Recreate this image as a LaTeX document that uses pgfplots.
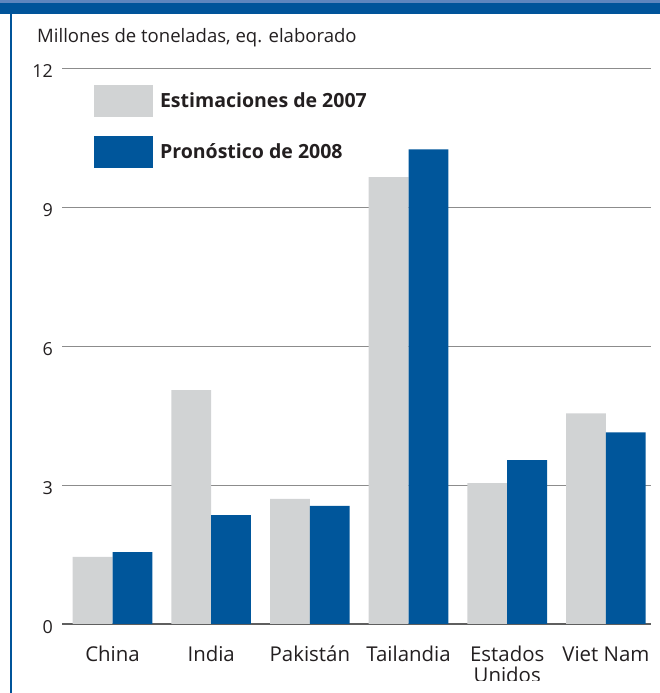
\documentclass[border=0pt]{standalone}
\usepackage{fontspec}
\setmainfont{Open Sans}
\usepackage{pgfplots}
\pgfplotsset{compat=1.18}
\definecolor{bargray}{HTML}{D1D3D4}
\definecolor{barblue}{HTML}{00569B}
\definecolor{bandblue}{HTML}{00549A}
\definecolor{bandlight}{HTML}{5E86BE}
\definecolor{gridgray}{HTML}{8C8C8C}
\definecolor{zerogray}{HTML}{5F5F5F}
\definecolor{textcol}{HTML}{231F20}
\begin{document}
\begin{tikzpicture}
\useasboundingbox (0,0) rectangle (660bp,693bp);
\begin{axis}[
  at={(62bp,69bp)}, anchor=south west,
  scale only axis, width=588.5bp, height=555.7bp,
  xmin=-0.512, xmax=5.452, ymin=0, ymax=12,
  ybar=0pt, bar width=39.8bp,
  axis line style={draw=none}, major tick length=0pt,
  xtick={0,1,2,3,4,5},
  xticklabels={China,India,Pakistán,Tailandia,{\begin{tabular}[t]{@{}c@{}}Estados\\Unidos\end{tabular}},Viet Nam},
  xticklabel style={font=\fontsize{20.5}{21}\selectfont, text=textcol, anchor=base, inner sep=0pt, yshift=-37bp},
  ytick={3,6,9,12},
  extra y ticks={0},
  extra y tick style={grid style={color=zerogray, line width=2bp}},
  ymajorgrids, grid style={color=gridgray, line width=1.1bp},
  /pgf/number format/assume math mode=true,
  yticklabel style={font=\fontsize{18}{18}\selectfont, text=textcol, anchor=east, inner sep=0pt, xshift=-9bp, yshift=-3bp},
  legend style={draw=none, fill=none, at={(axis description cs:0.0544,0.970)}, anchor=north west,
    font=\bfseries\fontsize{19.6}{20}\selectfont, text=textcol, row sep=19bp, column sep=7bp,
    inner sep=0pt, outer sep=0pt, nodes={inner sep=0pt, outer sep=0pt}},
  legend cell align=left,
]
\addplot[fill=bargray, draw=none, legend image code/.code={\fill[bargray] (0bp,-16bp) rectangle (59bp,16bp);}]
  coordinates {(0,1.45) (1,5.05) (2,2.70) (3,9.65) (4,3.04) (5,4.55)};
\addplot[fill=barblue, draw=none, legend image code/.code={\fill[barblue] (0bp,-16bp) rectangle (59bp,16bp);}]
  coordinates {(0,1.55) (1,2.35) (2,2.55) (3,10.25) (4,3.54) (5,4.14)};
\legend{Estimaciones de 2007, Pronóstico de 2008}
\end{axis}
\node[anchor=base west, inner sep=0pt, text=textcol, font=\fontsize{18.6}{19}\selectfont] at (37bp,650.3bp) {Millones de toneladas, eq. elaborado};
\fill[white] (13bp,0) rectangle (660bp,12.3bp);
\fill[bandblue] (0,679bp) rectangle (660bp,690bp);
\fill[bandlight] (0,690bp) rectangle (660bp,693bp);
\fill[bandblue] (10bp,0) rectangle (12bp,679bp);
\end{tikzpicture}
\end{document}
